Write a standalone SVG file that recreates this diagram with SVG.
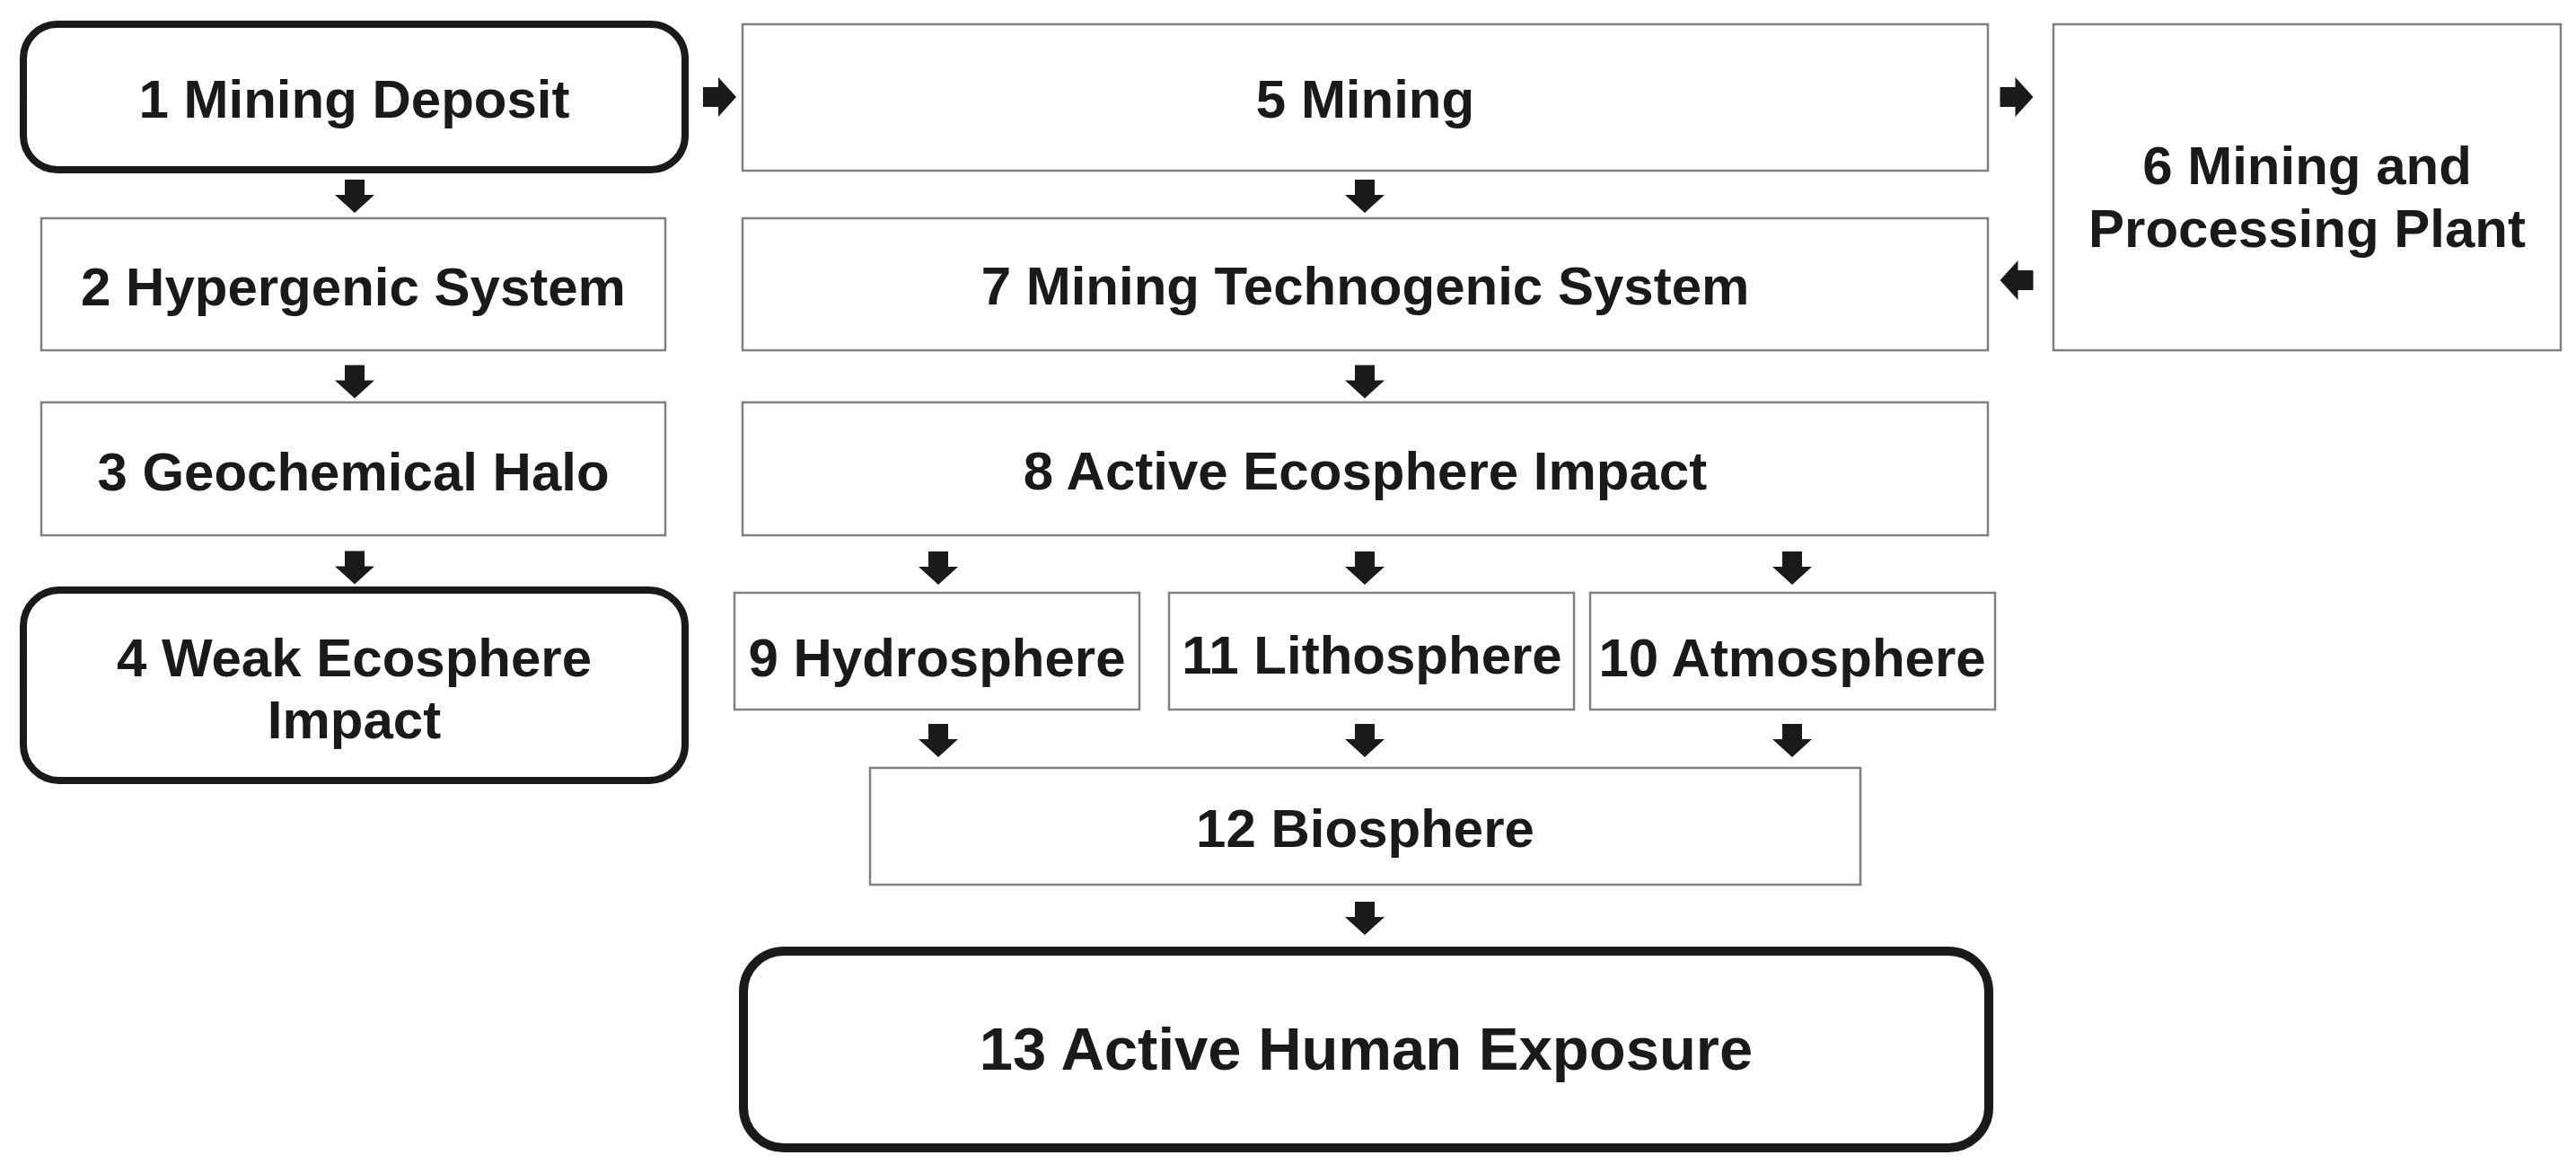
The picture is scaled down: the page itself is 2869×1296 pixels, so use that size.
<svg xmlns="http://www.w3.org/2000/svg" xmlns:xlink="http://www.w3.org/1999/xlink" width="2869" height="1296" viewBox="0 0 2869 1296">
<style>
.box{fill:#fff;stroke:#808080;stroke-width:2.5}
.bold{fill:#fff;stroke:#1a1a1a;stroke-width:8}
.t{font-family:"Liberation Sans",Arial,sans-serif;font-weight:bold;font-size:60px;fill:#1a1a1a;text-anchor:middle}
.big{font-size:67px}
.arr{fill:#1a1a1a}
</style>
<defs>
<path id="ad" d="M-11,-18.5 h22 v17 h11 L0,18.5 L-22,-1.5 h11 z"/>
</defs>
<rect width="2869" height="1296" fill="#fff"/>
<g id="n1"><rect class="bold" x="26" y="27" width="737" height="162" rx="38"/><text class="t" x="394.5" y="131">1 Mining Deposit</text></g>
<g id="n2"><rect class="box" x="46" y="243" width="695" height="147"/><text class="t" x="393.5" y="340">2 Hypergenic System</text></g>
<g id="n3"><rect class="box" x="46" y="448" width="695" height="148"/><text class="t" x="393.5" y="546">3 Geochemical Halo</text></g>
<g id="n4"><rect class="bold" x="26" y="657" width="737" height="212" rx="40"/><text class="t" x="394.5" y="753">4 Weak Ecosphere</text><text class="t" x="394.5" y="822">Impact</text></g>
<g id="n5"><rect class="box" x="827" y="27" width="1387" height="163"/><text class="t" x="1520.5" y="131">5 Mining</text></g>
<g id="n6"><rect class="box" x="2287" y="27" width="565" height="363"/><text class="t" x="2569.5" y="205">6 Mining and</text><text class="t" x="2569.5" y="275">Processing Plant</text></g>
<g id="n7"><rect class="box" x="827" y="243" width="1387" height="147"/><text class="t" x="1520.5" y="339">7 Mining Technogenic System</text></g>
<g id="n8"><rect class="box" x="827" y="448" width="1387" height="148"/><text class="t" x="1520.5" y="545">8 Active Ecosphere Impact</text></g>
<g id="n9"><rect class="box" x="818" y="660" width="451" height="130"/><text class="t" x="1043.5" y="753">9 Hydrosphere</text></g>
<g id="n11"><rect class="box" x="1302" y="660" width="451" height="130"/><text class="t" x="1528" y="750">11 Lithosphere</text></g>
<g id="n10"><rect class="box" x="1771" y="660" width="451" height="130"/><text class="t" x="1996" y="753">10 Atmosphere</text></g>
<g id="n12"><rect class="box" x="969" y="855" width="1103" height="130"/><text class="t" x="1520.5" y="943">12 Biosphere</text></g>
<g id="n13"><rect class="bold" x="828" y="1059" width="1387" height="219" rx="45" style="stroke-width:10"/><text class="t big" x="1521.5" y="1191">13 Active Human Exposure</text></g>
<g id="connectors" class="arr">
<use xlink:href="#ad" transform="translate(801.5,108) rotate(-90)"/>
<use xlink:href="#ad" transform="translate(2246,108) rotate(-90)"/>
<use xlink:href="#ad" transform="translate(2246,312) rotate(90)"/>
<use xlink:href="#ad" transform="translate(395,218.5)"/>
<use xlink:href="#ad" transform="translate(395,425)"/>
<use xlink:href="#ad" transform="translate(395,632)"/>
<use xlink:href="#ad" transform="translate(1520,218.5)"/>
<use xlink:href="#ad" transform="translate(1520,425)"/>
<use xlink:href="#ad" transform="translate(1045,632.5)"/>
<use xlink:href="#ad" transform="translate(1520,632.5)"/>
<use xlink:href="#ad" transform="translate(1996,632.5)"/>
<use xlink:href="#ad" transform="translate(1045,824.5)"/>
<use xlink:href="#ad" transform="translate(1520,824.5)"/>
<use xlink:href="#ad" transform="translate(1996,824.5)"/>
<use xlink:href="#ad" transform="translate(1520,1022.5)"/>
</g>
</svg>
